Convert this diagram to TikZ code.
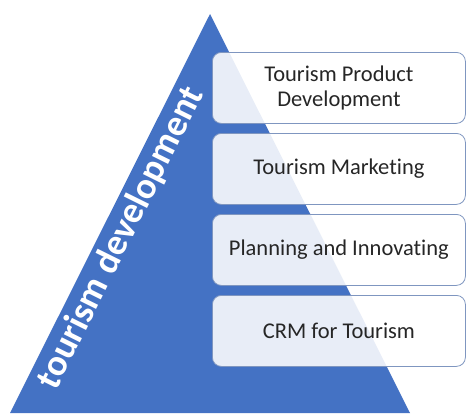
\documentclass[tikz,border=0pt]{standalone}
\usepackage{fontspec}
\setmainfont{Carlito}[Ligatures=NoCommon]
\definecolor{triblue}{HTML}{4472C4}
\definecolor{boxline}{HTML}{7F96C0}
\begin{document}
\begin{tikzpicture}[x=1pt,y=-1pt,
  layerbox/.style={draw=boxline, line width=0.8pt, rounded corners=9pt, fill=white, fill opacity=0.88, text opacity=1, minimum width=253pt, minimum height=71pt, align=center, font=\fontsize{22.5}{25}\selectfont, text=black!85},
]
\useasboundingbox (0,0) rectangle (466,413);
\fill[triblue] (210,14) coordinate (apex) -- (410,413) coordinate (br) -- (10,413) coordinate (bl) -- cycle;
\node[layerbox, anchor=north west] (b1) at (212,52) {Tourism Product\\Development};
\node[layerbox, anchor=north west] (b2) at (212,133) {Tourism Marketing};
\node[layerbox, anchor=north west] (b3) at (212,214) {Planning and Innovating};
\node[layerbox, anchor=north west] (b4) at (212,295) {CRM for Tourism};
\node[text=white, font=\bfseries\fontsize{37}{40}\selectfont, rotate=63.6] (title) at (121,238) {tourism development};
\end{tikzpicture}
\end{document}
